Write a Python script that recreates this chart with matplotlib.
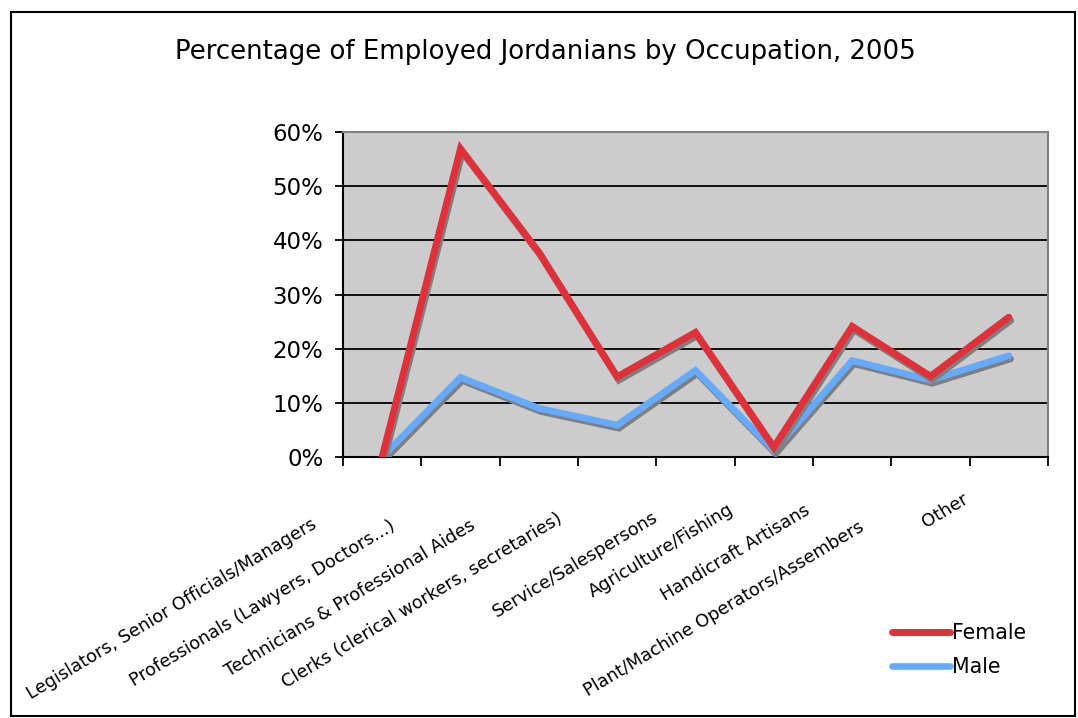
import matplotlib
matplotlib.use('Agg')
import matplotlib.pyplot as plt
import matplotlib.patheffects as pe
import matplotlib.transforms as mtransforms
from matplotlib.patches import Rectangle
from matplotlib.ticker import FuncFormatter
import numpy as np

# data
occupations = ['Legislators, Senior Officials/Managers',
               'Professionals (Lawyers, Doctors...)',
               'Technicians & Professional Aides',
               'Clerks (clerical workers, secretaries)',
               'Service/Salespersons',
               'Agriculture/Fishing',
               'Handicraft Artisans',
               'Plant/Machine Operators/Assembers',
               'Other']
female = [0.0, 56.9, 37.8, 14.8, 23.0, 1.8, 24.1, 14.9, 25.8]
male = [0.0, 14.7, 9.0, 5.9, 16.0, 1.2, 17.8, 14.2, 18.7]
yticks = [0, 10, 20, 30, 40, 50, 60]

# label offsets (pixels left / down from the category point on the axis)
lab_dx = [-72, -71, -70, -61, -44, -46, -48, -72, -47]
lab_dy = [58, 60, 59, 53, 51, 43, 44, 61, 33]

W, H = 1078, 718
fig = plt.figure(figsize=(W/100, H/100), dpi=100)
fig.patch.set_facecolor('white')

ax = fig.add_axes([343/W, 1-457/H, (1048-343)/W, (457-132)/H])
ax.set_facecolor('#CCCCCC')

x = np.arange(len(occupations))
shadow = [pe.SimpleLineShadow(offset=(1.3, -2.3), shadow_color='#7F7F7F', alpha=1), pe.Normal()]
l_m, = ax.plot(x, male, color='#66AAFF', linewidth=4.8, solid_capstyle='round',
               solid_joinstyle='miter', path_effects=shadow, label='Male', zorder=3)
l_f, = ax.plot(x, female, color='#E0303A', linewidth=5.0, solid_capstyle='round',
               solid_joinstyle='miter', path_effects=shadow, label='Female', zorder=4)

ax.set_xlim(-0.5, len(occupations)-0.5)
ax.set_ylim(0, 60)
ax.set_yticks(yticks)
ax.yaxis.set_major_formatter(FuncFormatter(lambda v, p: '%d%%' % v))
ax.set_xticks(np.arange(-0.5, len(occupations)))
ax.set_xticklabels([])
ax.tick_params(axis='y', direction='out', length=6, width=1.3, labelsize=16.5, pad=8, color='black')
ax.tick_params(axis='x', direction='out', length=6.5, width=1.3, color='black')

for v in yticks[1:-1]:
    ax.axhline(v, color='black', linewidth=1.3, zorder=1)

ax.spines['left'].set_color('black')
ax.spines['left'].set_linewidth(1.5)
ax.spines['bottom'].set_color('black')
ax.spines['bottom'].set_linewidth(1.5)
ax.spines['top'].set_color('#808080')
ax.spines['right'].set_color('#808080')
ax.spines['top'].set_linewidth(1.5)
ax.spines['right'].set_linewidth(1.5)

base = mtransforms.blended_transform_factory(ax.transData, ax.transAxes)
for i, name in enumerate(occupations):
    tr = base + mtransforms.ScaledTranslation(lab_dx[i]/100, -lab_dy[i]/100, fig.dpi_scale_trans)
    ax.text(i, 0, name, transform=tr, rotation=31, rotation_mode='anchor',
            ha='right', va='top', fontsize=12.8, clip_on=False)

fig.text(545/W, 1-52/H, 'Percentage of Employed Jordanians by Occupation, 2005',
         ha='center', va='center', fontsize=18.7)

leg = fig.legend([l_f, l_m], ['Female', 'Male'], loc='center left',
                 bbox_to_anchor=(892/W, 1-650/H), frameon=False, fontsize=14.8,
                 handlelength=2.8, handletextpad=0.1, labelspacing=0.7,
                 borderpad=0, borderaxespad=0)
for h in leg.legend_handles:
    h.set_path_effects([])
    h.set_solid_capstyle('round')

fig.add_artist(Rectangle((11/W, 1-716/H), (1075-11)/W, (716-12)/H,
                         transform=fig.transFigure, fill=False,
                         edgecolor='black', linewidth=1.5))

fig.savefig('out.png', dpi=100)
